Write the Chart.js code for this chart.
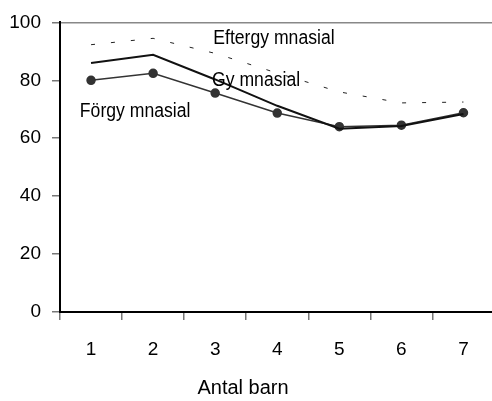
<!DOCTYPE html>
<html>
<head>
<meta charset="utf-8">
<script src="https://cdn.jsdelivr.net/npm/chart.js@4/dist/chart.umd.min.js"></script>
<style>
  html, body { margin: 0; padding: 0; background: #fff; overflow: hidden; }
  #wrap { width: 500px; height: 401px; }
</style>
</head>
<body>
<div id="wrap"><canvas id="chart" width="500" height="401"></canvas></div>
<script>
(function () {
  "use strict";

  const categories = ["1", "2", "3", "4", "5", "6", "7"];
  const forgymnasial = [80.0, 82.4, 75.6, 68.7, 64.0, 64.5, 68.8];
  const gymnasial = [86.0, 88.8, 80.3, 71.2, 63.3, 64.2, 68.4];
  const eftergymnasial = [92.3, 94.5, 89.3, 82.5, 76.0, 72.2, 72.5];
  const yTicks = [0, 20, 40, 60, 80, 100];

  const FONT = "'Liberation Sans', Arial, sans-serif";

  // series names drawn next to the lines: [text, category index, y value]
  const seriesLabels = [
    ["Eftergy mnasial", 1.97, 92.5],
    ["Gy mnasial", 1.95, 78.2],
    ["Förgy mnasial", -0.18, 67.2]
  ];

  const labelPlugin = {
    id: "labels",
    afterDraw(chart) {
      const ctx = chart.ctx;
      const x = chart.scales.x, y = chart.scales.y;
      ctx.save();
      ctx.fillStyle = "#000";
      ctx.font = "20px " + FONT;
      ctx.textAlign = "left";
      ctx.textBaseline = "alphabetic";
      // the original labels are a slightly condensed face
      seriesLabels.forEach(function (l) {
        const px = x.getPixelForValue(l[1]), py = y.getPixelForValue(l[2]);
        ctx.save();
        ctx.translate(px, py);
        ctx.scale(0.88, 1);
        ctx.fillText(l[0], 0, 0);
        ctx.restore();
      });
      // axis title
      ctx.font = "20px " + FONT;
      ctx.textAlign = "center";
      ctx.textBaseline = "middle";
      ctx.fillText("Antal barn", 243, 388);
      ctx.restore();
    }
  };

  new Chart(document.getElementById("chart"), {
    type: "line",
    data: {
      labels: categories,
      datasets: [
        {
          label: "Eftergymnasial", data: eftergymnasial,
          borderColor: "#222", borderWidth: 1, borderDash: [4, 16],
          pointRadius: 0, tension: 0, fill: false
        },
        {
          label: "Gymnasial", data: gymnasial,
          borderColor: "#111", borderWidth: 2,
          pointRadius: 0, tension: 0, fill: false
        },
        {
          label: "Förgymnasial", data: forgymnasial,
          borderColor: "#333", borderWidth: 1.5,
          pointRadius: 4, pointBackgroundColor: "#333", pointBorderColor: "#333",
          tension: 0, fill: false
        }
      ]
    },
    options: {
      responsive: false,
      animation: false,
      layout: { padding: { top: 19, left: 0, right: 0, bottom: 0 } },
      plugins: { legend: { display: false }, tooltip: { enabled: false } },
      scales: {
        x: {
          offset: true,
          grid: { offset: true, drawOnChartArea: false, tickLength: 8, color: "#777", lineWidth: 1.5 },
          border: { color: "#000", width: 2 },
          ticks: { color: "#000", padding: 18, font: { size: 19, family: FONT } },
          afterFit(s) { s.height = 89; }
        },
        y: {
          min: 0, max: 100,
          afterBuildTicks(s) { s.ticks = yTicks.map(v => ({ value: v })); },
          grid: {
            tickLength: 8, tickColor: "#777", lineWidth: 1.5,
            color: c => (c.tick && c.tick.value === 100 ? "#888" : "rgba(0,0,0,0)")
          },
          border: { color: "#000", width: 2 },
          ticks: { color: "#000", padding: 11, font: { size: 19, family: FONT } },
          afterFit(s) { s.width = 60; }
        }
      }
    },
    plugins: [labelPlugin]
  });
})();
</script>
</body>
</html>
